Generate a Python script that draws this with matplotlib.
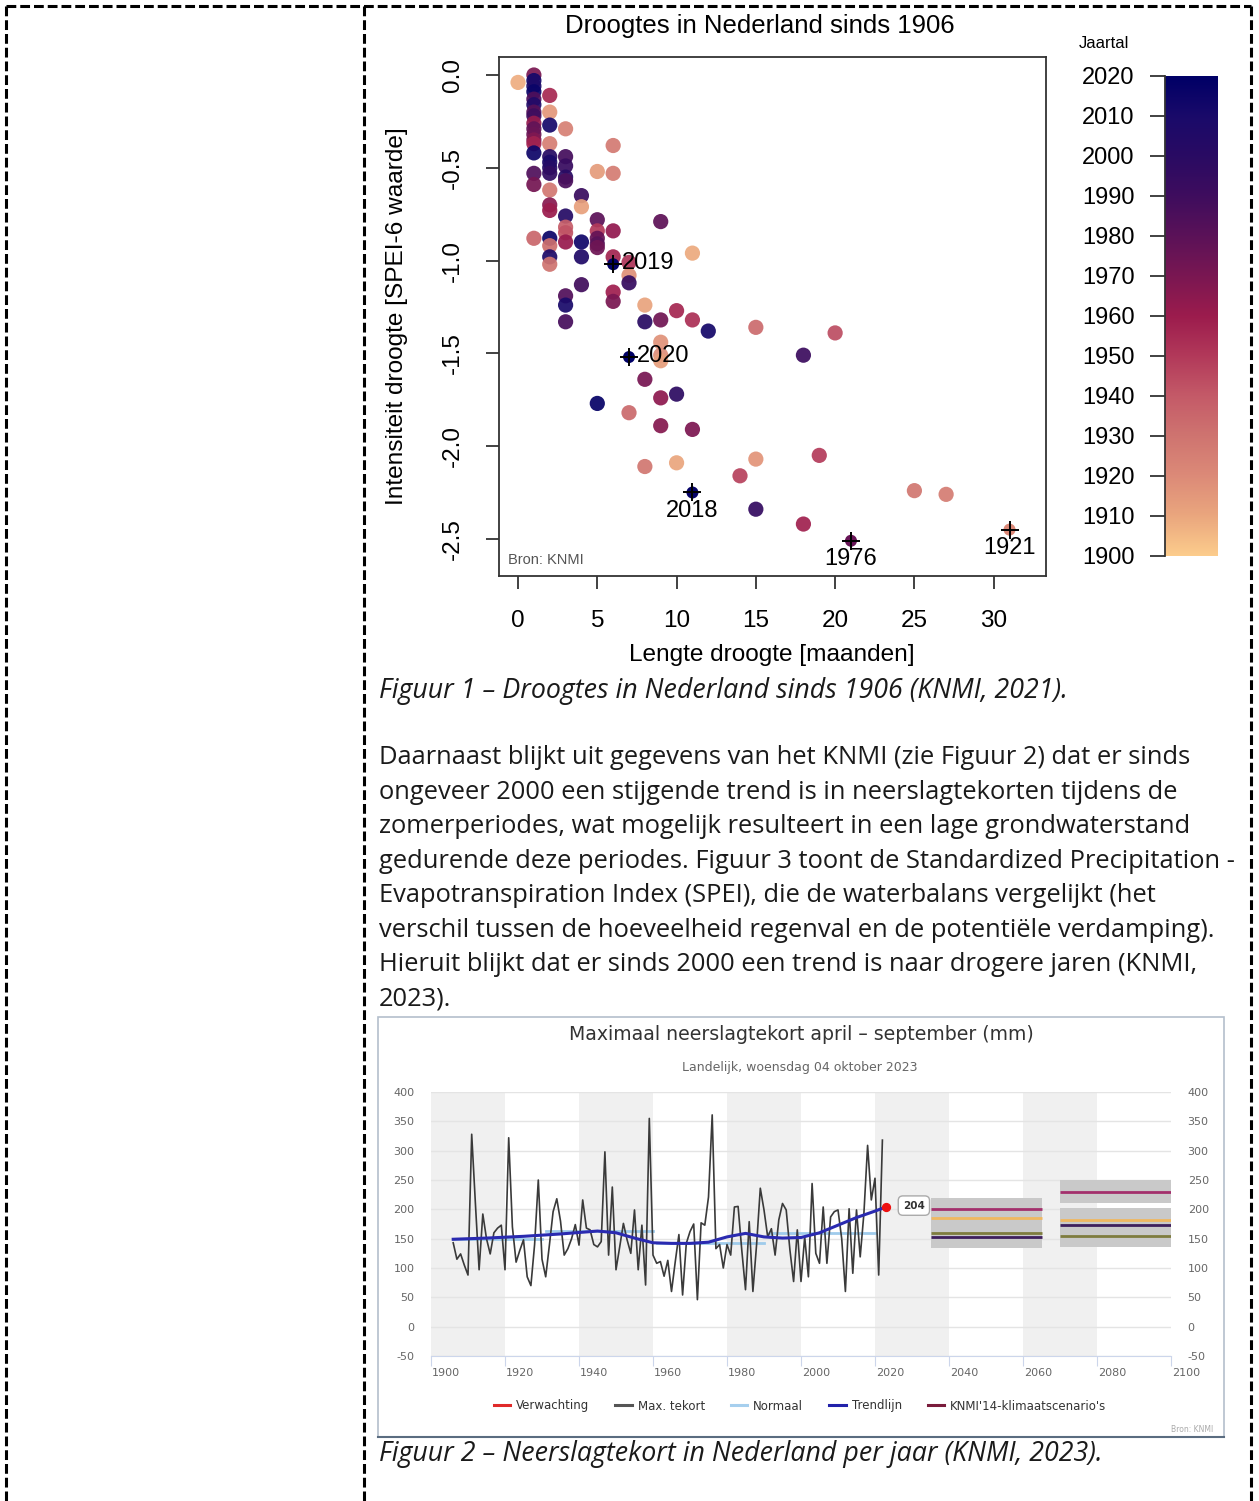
import matplotlib.pyplot as plt
import numpy as np
from matplotlib.colors import LinearSegmentedColormap
from matplotlib.lines import Line2D
from matplotlib.patches import Rectangle
from matplotlib.transforms import ScaledTranslation

W, H = 1259, 1501

# Figuur 1 - droogte-events (lengte in maanden, SPEI-6, jaartal)
drought_len = [
    0,
    1, 1, 1, 1, 1, 1, 1, 1, 1, 1, 1, 1, 1, 1, 1, 1, 1,
    2, 2, 2, 2, 2, 2, 2, 2, 2, 2, 2, 2, 2, 2, 2,
    3, 3, 3, 3, 3, 3, 3, 3, 3, 3, 3, 3,
    4, 4, 4, 4, 4,
    5, 5, 5, 5, 5, 5, 5,
    6, 6, 6, 6, 6, 6,
    7, 7, 7, 7,
    8, 8, 8, 8,
    9, 9, 9, 9, 9, 9, 9,
    10, 10, 10,
    11, 11, 11,
    12, 14, 15, 15, 15, 18, 18, 19, 20, 25, 27,
]
drought_spei = [
    -0.04,
    0.00, -0.03, -0.06, -0.09, -0.13, -0.16, -0.20, -0.22, -0.26, -0.29, -0.32, -0.35, -0.37, -0.42, -0.53, -0.59, -0.88,
    -0.11, -0.20, -0.27, -0.37, -0.44, -0.47, -0.50, -0.53, -0.62, -0.70, -0.73, -0.88, -0.92, -0.98, -1.02,
    -0.29, -0.44, -0.49, -0.55, -0.57, -0.76, -0.82, -0.85, -0.90, -1.19, -1.24, -1.33,
    -0.65, -0.71, -0.90, -0.98, -1.13,
    -0.52, -0.78, -0.84, -0.88, -0.91, -0.93, -1.77,
    -0.38, -0.53, -0.84, -0.98, -1.17, -1.22,
    -1.01, -1.08, -1.12, -1.82,
    -1.24, -1.33, -1.64, -2.11,
    -0.79, -1.32, -1.44, -1.51, -1.54, -1.74, -1.89,
    -1.27, -1.72, -2.09,
    -0.96, -1.32, -1.91,
    -1.38, -2.16, -1.36, -2.07, -2.34, -1.51, -2.42, -2.05, -1.39, -2.24, -2.26,
]
drought_year = [
    1908,
    1970, 2012, 2008, 2016, 1985, 2005, 1982, 1990, 1962, 1978, 1975, 1968, 1958, 2014, 1984, 1972, 1935,
    1955, 1915, 2011, 1925, 2002, 2009, 2004, 1997, 1928, 1966, 1960, 2015, 1932, 2007, 1930,
    1924, 1988, 1993, 2001, 1986, 2003, 1938, 1942, 1961, 1983, 2010, 1987,
    1992, 1912, 2013, 2006, 1989,
    1914, 1980, 1950, 1977, 1981, 1974, 2017,
    1927, 1926, 1963, 1957, 1959, 1970,
    1952, 1918, 1994, 1934,
    1911, 2000, 1971, 1929,
    1979, 1973, 1917, 1919, 1913, 1964, 1967,
    1956, 1998, 1910,
    1909, 1953, 1969,
    2012, 1947, 1933, 1916, 1995, 1991, 1958, 1949, 1944, 1929, 1926,
]

event_len = [6, 7, 11, 21, 31]
event_spei = [-1.02, -1.52, -2.25, -2.51, -2.45]
event_year = [2019, 2020, 2018, 1976, 1921]

cbar_ticks = [1900, 1910, 1920, 1930, 1940, 1950, 1960, 1970, 1980, 1990, 2000, 2010, 2020]
cbar_colors = ["#fccc8c", "#eaa67e", "#dc8a78", "#cf7470", "#c45a68", "#b2395a", "#9c1c4d",
               "#7a1752", "#5b1258", "#3f0d5e", "#2a0b63", "#1a0a6a", "#000066"]

# Figuur 2 - maximaal neerslagtekort april-september (mm)
tekort_years = list(range(1906, 2023))
tekort_values = [
    143, 115, 124, 105, 88, 328, 210, 97, 192, 150,
    124, 160, 168, 173, 97, 322, 170, 110, 130, 148,
    85, 70, 140, 250, 115, 85, 139, 196, 218, 180,
    122, 133, 150, 174, 139, 216, 168, 165, 140, 136,
    145, 298, 122, 238, 97, 136, 176, 148, 125, 199,
    97, 173, 71, 355, 122, 108, 111, 86, 113, 60,
    110, 157, 54, 142, 162, 175, 46, 177, 173, 221,
    361, 133, 140, 100, 140, 122, 204, 205, 130, 63,
    179, 60, 140, 236, 199, 153, 167, 122, 182, 210,
    199, 131, 77, 165, 77, 153, 85, 244, 125, 108,
    204, 108, 187, 196, 199, 150, 60, 201, 91, 199,
    119, 193, 309, 216, 253, 88, 318,
]
trend_years = [1906, 1915, 1925, 1935, 1945, 1950, 1955, 1960, 1965, 1970, 1975,
               1980, 1985, 1990, 1995, 2000, 2005, 2010, 2015, 2020, 2023]
trend_values = [149, 151, 154, 158, 163, 160, 151, 143, 142, 142, 144,
                153, 159, 153, 151, 152, 160, 173, 186, 197, 204]
normal_start = [1906, 1931, 1961, 1991]
normal_end = [1930, 1960, 1990, 2020]
normal_values = [149, 163, 142, 160]
forecast_year = 2023
forecast_value = 204
scenario_start = [2035, 2070]
scenario_end = [2065, 2100]
scenario_low = [134, 135]
scenario_high = [219, 250]
scenario_gap = [None, (202, 210)]
scenario_values = [[200, 185, 153, 159], [230, 182, 174, 155]]
legend_labels = ["Verwachting", "Max. tekort", "Normaal", "Trendlijn", "KNMI'14-klimaatscenario's"]

paragraph = [
    "Daarnaast blijkt uit gegevens van het KNMI (zie Figuur 2) dat er sinds",
    "ongeveer 2000 een stijgende trend is in neerslagtekorten tijdens de",
    "zomerperiodes, wat mogelijk resulteert in een lage grondwaterstand",
    "gedurende deze periodes. Figuur 3 toont de Standardized Precipitation -",
    "Evapotranspiration Index (SPEI), die de waterbalans vergelijkt (het",
    "verschil tussen de hoeveelheid regenval en de potentiële verdamping).",
    "Hieruit blijkt dat er sinds 2000 een trend is naar drogere jaren (KNMI,",
    "2023).",
]


def rect(left, top, right, bottom):
    return [left / W, 1 - bottom / H, (right - left) / W, (bottom - top) / H]


def fx(x):
    return x / W


def fy(y):
    return 1 - y / H


plt.rcParams["axes.unicode_minus"] = False
fig = plt.figure(figsize=(W / 100, H / 100), dpi=100, facecolor="white")

# dashed table borders
dash = dict(color="black", lw=2.2, linestyle=(0, (3.2, 1.3)), transform=fig.transFigure)
fig.add_artist(Line2D([fx(6), fx(1251)], [fy(6), fy(6)], **dash))
for xb in (6, 364, 1251):
    fig.add_artist(Line2D([fx(xb), fx(xb)], [fy(6), fy(1501)], **dash))

# ---- Figuur 1 ----
rfont = ["Liberation Sans", "DejaVu Sans"]
cmap = LinearSegmentedColormap.from_list(
    "jaartal", list(zip(np.linspace(0, 1, len(cbar_colors)), cbar_colors)))

ax = fig.add_axes(rect(499, 57, 1046, 576))
ax.scatter(drought_len, drought_spei, c=drought_year, cmap=cmap, vmin=1900, vmax=2020,
           s=120, edgecolors="none", alpha=0.93, zorder=2)
ax.scatter(event_len, event_spei, c=event_year, cmap=cmap, vmin=1900, vmax=2020,
           s=75, edgecolors="none", zorder=3)
ax.scatter(event_len, event_spei, marker="+", color="black", s=170, linewidths=1.4, zorder=4)
for xe, ye, yr in zip(event_len, event_spei, event_year):
    if yr in (2019, 2020):
        ax.annotate(str(yr), (xe, ye), xytext=(6, 1), textcoords="offset points",
                    ha="left", va="center", fontsize=17, family=rfont)
    else:
        ax.annotate(str(yr), (xe, ye), xytext=(0, -13), textcoords="offset points",
                    ha="center", va="center", fontsize=17, family=rfont)

ax.set_xlim(-1.2, 33.3)
ax.set_ylim(-2.70, 0.097)
ax.set_xticks(range(0, 31, 5))
yt = [0.0, -0.5, -1.0, -1.5, -2.0, -2.5]
ax.set_yticks(yt, labels=[f"{v:.1f}" for v in yt])
ax.tick_params(length=9.5, width=1.3, color="#333333", labelsize=17.5)
ax.tick_params(axis="x", pad=15)
ax.tick_params(axis="y", pad=15.5)
for t in ax.get_yticklabels():
    t.set_rotation(90)
    t.set_va("center")
for t in ax.get_xticklabels() + ax.get_yticklabels():
    t.set_family(rfont)
for sp in ax.spines.values():
    sp.set_linewidth(1.3)
    sp.set_color("#333333")

fig.text(fx(760), fy(26), "Droogtes in Nederland sinds 1906", ha="center", va="center",
         fontsize=18.5, family=rfont)
fig.text(fx(772), fy(655), "Lengte droogte [maanden]", ha="center", va="center",
         fontsize=17.6, family=rfont)
fig.text(fx(397), fy(316), "Intensiteit droogte [SPEI-6 waarde]", ha="center", va="center",
         rotation=90, fontsize=17.6, family=rfont)
fig.text(fx(508), fy(560), "Bron: KNMI", ha="left", va="center", fontsize=10.5,
         color="#555555", family=rfont)
fig.text(fx(1104), fy(44), "Jaartal", ha="center", va="center", fontsize=12, family=rfont)

cax = fig.add_axes(rect(1165, 76, 1218, 556))
cax.imshow(np.linspace(0, 1, 256)[:, None], aspect="auto", cmap=cmap, origin="lower",
           extent=[0, 1, 1900, 2020])
cax.set_xlim(0, 1)
cax.set_ylim(1900, 2020)
cax.set_xticks([])
cax.set_yticks(cbar_ticks)
cax.tick_params(axis="y", length=11, width=1.3, color="#333333", labelsize=17, pad=11)
for t in cax.get_yticklabels():
    t.set_family(rfont)
for side in ("top", "right", "bottom"):
    cax.spines[side].set_visible(False)
cax.spines["left"].set_linewidth(1.3)
cax.spines["left"].set_color("#333333")

# ---- tekst ----
body = dict(family=["Open Sans", "DejaVu Sans"], color="#1a1a1a")
fig.text(fx(379), fy(691), "Figuur 1 – Droogtes in Nederland sinds 1906 (KNMI, 2021).",
         ha="left", va="center", fontsize=19.3, style="italic", **body)
for i, line in enumerate(paragraph):
    fig.text(fx(379), fy(758 + i * 34.5), line, ha="left", va="center", fontsize=18.4, **body)
fig.text(fx(379), fy(1454), "Figuur 2 – Neerslagtekort in Nederland per jaar (KNMI, 2023).",
         ha="left", va="center", fontsize=19.3, style="italic", **body)

# ---- Figuur 2 ----
hfont = ["DejaVu Sans"]
frame = Rectangle((fx(378), fy(1437)), fx(1224) - fx(378), fy(1017) - fy(1437),
                  transform=fig.transFigure, facecolor="white", edgecolor="#b4bfcc", lw=1.2,
                  zorder=-5)
fig.add_artist(frame)
fig.add_artist(Line2D([fx(378), fx(1224)], [fy(1437), fy(1437)], color="#5a6c80", lw=1.5,
                      transform=fig.transFigure))
fig.text(fx(801), fy(1035), "Maximaal neerslagtekort april – september (mm)", ha="center",
         va="center", fontsize=13.6, color="#333333", family=hfont)
fig.text(fx(800), fy(1067), "Landelijk, woensdag 04 oktober 2023", ha="center", va="center",
         fontsize=9, color="#666666", family=hfont)

ax2 = fig.add_axes(rect(431, 1092, 1171, 1356))
for start in range(1900, 2100, 40):
    ax2.axvspan(start, start + 20, color="#f0f0f0", lw=0, zorder=0)
ax2.set_yticks(range(-50, 401, 50))
ax2.grid(axis="y", color="#e4e4e4", lw=1, zorder=0.5)
ax2.set_axisbelow(True)

for s0, s1, lo, hi, gap in zip(scenario_start, scenario_end, scenario_low, scenario_high, scenario_gap):
    if gap is None:
        ax2.add_patch(Rectangle((s0, lo), s1 - s0, hi - lo, color="#c9c9c9", lw=0, zorder=1))
    else:
        ax2.add_patch(Rectangle((s0, lo), s1 - s0, gap[0] - lo, color="#c9c9c9", lw=0, zorder=1))
        ax2.add_patch(Rectangle((s0, gap[1]), s1 - s0, hi - gap[1], color="#c9c9c9", lw=0, zorder=1))
scen_colors = ["#a3306c", "#f0b860", "#3e1f5c", "#7e7c3e"]
for s0, s1, vals in zip(scenario_start, scenario_end, scenario_values):
    for v, c in zip(vals, scen_colors):
        ax2.plot([s0, s1], [v, v], color=c, lw=2, solid_capstyle="butt", zorder=2)

for a, b, v in zip(normal_start, normal_end, normal_values):
    ax2.plot([a, b], [v, v], color="#9fcbeb", lw=2, zorder=2)
ax2.plot(tekort_years, tekort_values, color="#3a3a3a", lw=1.2, zorder=3)
ax2.plot(trend_years, trend_values, color="#2a2ab0", lw=2.2, zorder=4)
ax2.scatter([forecast_year], [forecast_value], color="#ee1111", s=32, zorder=5)
ax2.annotate(str(forecast_value), (forecast_year, forecast_value), xytext=(20, 1),
             textcoords="offset points", ha="center", va="center", fontsize=7.5,
             fontweight="bold", color="#333333", family=hfont,
             bbox=dict(boxstyle="round,pad=0.45", fc="white", ec="#aaaaaa", lw=1))

ax2.set_xticks(range(1900, 2101, 20))
ax2.set_xlim(1900, 2100)
ax2.set_ylim(-50, 400)
ax2.tick_params(axis="x", length=7, color="#ccd6eb", pad=2, labelsize=8, labelcolor="#666666")
ax2.tick_params(axis="y", length=0, pad=12, labelsize=8, labelcolor="#666666")
# Highcharts zet de jaartallen rechts van de tick
shift = ScaledTranslation(0.15, 0, fig.dpi_scale_trans)
for t in ax2.get_xticklabels():
    t.set_transform(t.get_transform() + shift)
for sp in ("top", "left", "right"):
    ax2.spines[sp].set_visible(False)
ax2.spines["bottom"].set_color("#ccd6eb")

ax2r = ax2.twinx()
ax2r.set_ylim(-50, 400)
ax2r.set_yticks(range(-50, 401, 50))
ax2r.tick_params(axis="y", length=0, pad=12, labelsize=8, labelcolor="#666666")
for sp in ax2r.spines.values():
    sp.set_visible(False)
for t in ax2.get_xticklabels() + ax2.get_yticklabels() + ax2r.get_yticklabels():
    t.set_family(hfont)

handle_colors = ["#e02a2a", "#555555", "#a6cfee", "#2222aa", "#7a1c3c"]
handles = [Line2D([], [], color=c, lw=2.2) for c in handle_colors]
fig.legend(handles, legend_labels, loc="center", bbox_to_anchor=(fx(800), fy(1406)), ncol=5,
           frameon=False, handlelength=1.4, handletextpad=0.5,
           columnspacing=2.2, labelcolor="#333333", prop={"family": hfont, "size": 8.5})
fig.text(fx(1213), fy(1430), "Bron: KNMI", ha="right", va="center", fontsize=5.5,
         color="#aaaaaa", family=hfont)

fig.savefig("out.png", dpi=100, facecolor="white")
